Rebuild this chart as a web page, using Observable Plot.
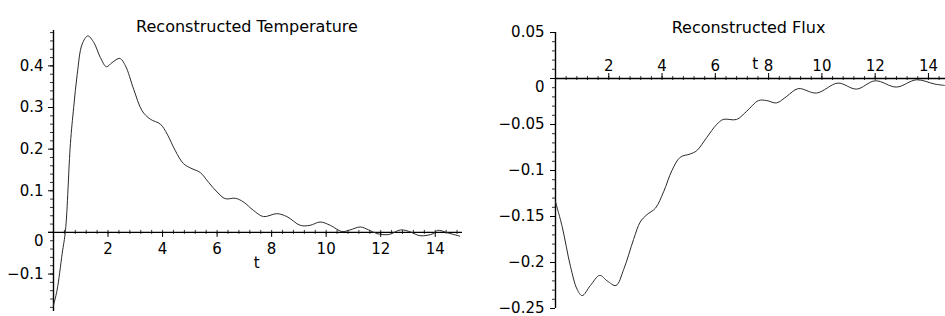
<!DOCTYPE html>
<html><head><meta charset="utf-8">
<script src="https://cdn.jsdelivr.net/npm/d3@7"></script>
<script src="https://cdn.jsdelivr.net/npm/@observablehq/plot@0.6"></script>
<style>
body{margin:0;background:#fff}
#wrap{display:flex;width:945px;height:316px;overflow:hidden}
</style>
</head><body><div id="wrap"></div>
<script>
// ---- data ----
const tempTitle = "Reconstructed Temperature";
const fluxTitle = "Reconstructed Flux";
const axisName = "t";

const tempT = [0, 0.13, 0.32, 0.44, 0.62, 0.74, 0.87, 1.05, 1.26, 1.48, 1.72, 1.94, 2.15, 2.43, 2.64, 2.94, 3.25, 3.55, 3.92, 4.17, 4.47, 4.77, 5.08, 5.38, 5.69, 6.0, 6.3, 6.67, 6.97, 7.33, 7.7, 8.19, 8.56, 9.05, 9.41, 9.78, 10.15, 10.58, 10.88, 11.25, 11.56, 11.87, 12.3, 12.73, 13.1, 13.44, 13.93, 14.08, 14.45, 14.9];
const tempV = [-0.175, -0.139, -0.05, 0.005, 0.213, 0.30, 0.38, 0.452, 0.472, 0.456, 0.42, 0.398, 0.408, 0.418, 0.40, 0.344, 0.292, 0.272, 0.26, 0.236, 0.196, 0.165, 0.153, 0.144, 0.12, 0.097, 0.081, 0.082, 0.073, 0.053, 0.038, 0.045, 0.038, 0.017, 0.017, 0.025, 0.017, 0.002, 0.006, 0.013, 0.006, -0.003, -0.005, 0.006, 0.001, -0.008, -0.003, 0.005, -0.001, -0.009];

const fluxT = [0, 0.25, 0.56, 0.81, 1.0, 1.31, 1.66, 1.94, 2.27, 2.56, 2.93, 3.18, 3.43, 3.75, 4.06, 4.37, 4.68, 5.06, 5.3, 5.68, 6.05, 6.3, 6.8, 7.18, 7.62, 7.93, 8.3, 8.68, 9.11, 9.8, 10.6, 11.3, 12.0, 12.8, 13.55, 14.23, 14.6];
const fluxV = [-0.134, -0.161, -0.204, -0.229, -0.236, -0.225, -0.214, -0.22, -0.225, -0.2075, -0.175, -0.156, -0.148, -0.141, -0.123, -0.1, -0.0857, -0.082, -0.0785, -0.064, -0.05, -0.0445, -0.0445, -0.0355, -0.024, -0.024, -0.0265, -0.0194, -0.011, -0.0158, -0.005, -0.0115, -0.0025, -0.0093, -0.0014, -0.006, -0.0075];

const xMajor = [2, 4, 6, 8, 10, 12, 14];
const tempYMajor = [-0.1, 0.1, 0.2, 0.3, 0.4];
const fluxYMajor = [0.05, -0.05, -0.1, -0.15, -0.2, -0.25];

const fmt = d => d < 0 ? "\u2212" + String(Math.abs(d)) : String(d);

function panel(c) {
  const innerW = c.width - c.ml - c.mr, innerH = c.height - c.mt - c.mb;
  const ppx = innerW / (c.xDomain[1] - c.xDomain[0]);
  const ppy = innerH / (c.yDomain[1] - c.yDomain[0]);
  const xMinor = d3.range(0, c.xDomain[1] + 1e-9, c.xMinorStep).map(v => +v.toFixed(4));
  const yMinor = d3.range(Math.ceil(c.yDomain[0] / c.yMinorStep) * c.yMinorStep, c.yDomain[1] + 1e-9, c.yMinorStep).map(v => +v.toFixed(4));
  const side = c.labelsBelow ? -1 : 1;
  const data = c.T.map((t, i) => ({t, v: c.V[i]}));
  return Plot.plot({
    width: c.width, height: c.height,
    marginLeft: c.ml, marginRight: c.mr, marginTop: c.mt, marginBottom: c.mb,
    x: {domain: c.xDomain, axis: null},
    y: {domain: c.yDomain, axis: null},
    style: {fontFamily: "DejaVu Sans", fontSize: "15px", background: "#fff", color: "#000", overflow: "visible"},
    marks: [
      // axes
      Plot.ruleX([0], {stroke: "#000", strokeWidth: 1.4}),
      Plot.ruleY([0], {stroke: "#000", strokeWidth: 1.4, insetLeft: c.axisInsetLeft}),
      // minor ticks
      Plot.ruleX(xMinor, {x: d => d, y1: -2 / ppy, y2: 2 / ppy, stroke: "#000", strokeWidth: 0.8}),
      Plot.ruleY(yMinor, {y: d => d, x1: 0, x2: -3 / ppx, stroke: "#000", strokeWidth: 0.8}),
      // major ticks
      Plot.ruleX(xMajor, {x: d => d, y1: 0, y2: side * 5 / ppy, stroke: "#000", strokeWidth: 1}),
      Plot.ruleY(c.yMajor.concat([0]), {y: d => d, x1: 0, x2: -5 / ppx, stroke: "#000", strokeWidth: 1}),
      // tick labels
      Plot.text(xMajor, {x: d => d, y: 0, text: d => fmt(d), dy: c.xLabelDy, fill: "#000"}),
      Plot.text(c.yMajor, {x: 0, y: d => d, text: d => fmt(d), textAnchor: "end", dx: c.yLabelDx, fill: "#000"}),
      Plot.text([0], {x: 0, y: 0, text: d => fmt(d), textAnchor: "end", dx: c.yLabelDx, dy: 9, fill: "#000"}),
      // axis name
      Plot.text([axisName], {x: c.tPos, y: 0, dy: c.tDy, fill: "#000"}),
      // curve
      Plot.line(data, {x: "t", y: "v", curve: "catmull-rom", stroke: "#2a2a2a", strokeWidth: 1}),
      // title
      Plot.text([c.title], {frameAnchor: "top", dx: c.titleDx, dy: c.titleDy, fontSize: 16, fill: "#000"})
    ]
  });
}

const wrap = document.getElementById("wrap");
wrap.appendChild(panel({
  width: 470, height: 316, ml: 53, mr: 8, mt: 30, mb: 5,
  xDomain: [0, 15], yDomain: [-0.19, 0.485],
  xMinorStep: 0.4, yMinorStep: 0.02,
  yMajor: tempYMajor, labelsBelow: true, xLabelDy: 17, yLabelDx: -10,
  tPos: 7.45, tDy: 31, axisInsetLeft: -5,
  T: tempT, V: tempV, title: tempTitle, titleDx: -11, titleDy: -10
}));
wrap.appendChild(panel({
  width: 475, height: 316, ml: 85, mr: 0, mt: 32, mb: 8,
  xDomain: [0, 14.64], yDomain: [-0.25, 0.05],
  xMinorStep: 0.4, yMinorStep: 0.01,
  yMajor: fluxYMajor, labelsBelow: false, xLabelDy: -12, yLabelDx: -11,
  tPos: 7.5, tDy: -14, axisInsetLeft: 0,
  T: fluxT, V: fluxV, title: fluxTitle, titleDx: -2, titleDy: -11
}));
</script>
</body></html>
